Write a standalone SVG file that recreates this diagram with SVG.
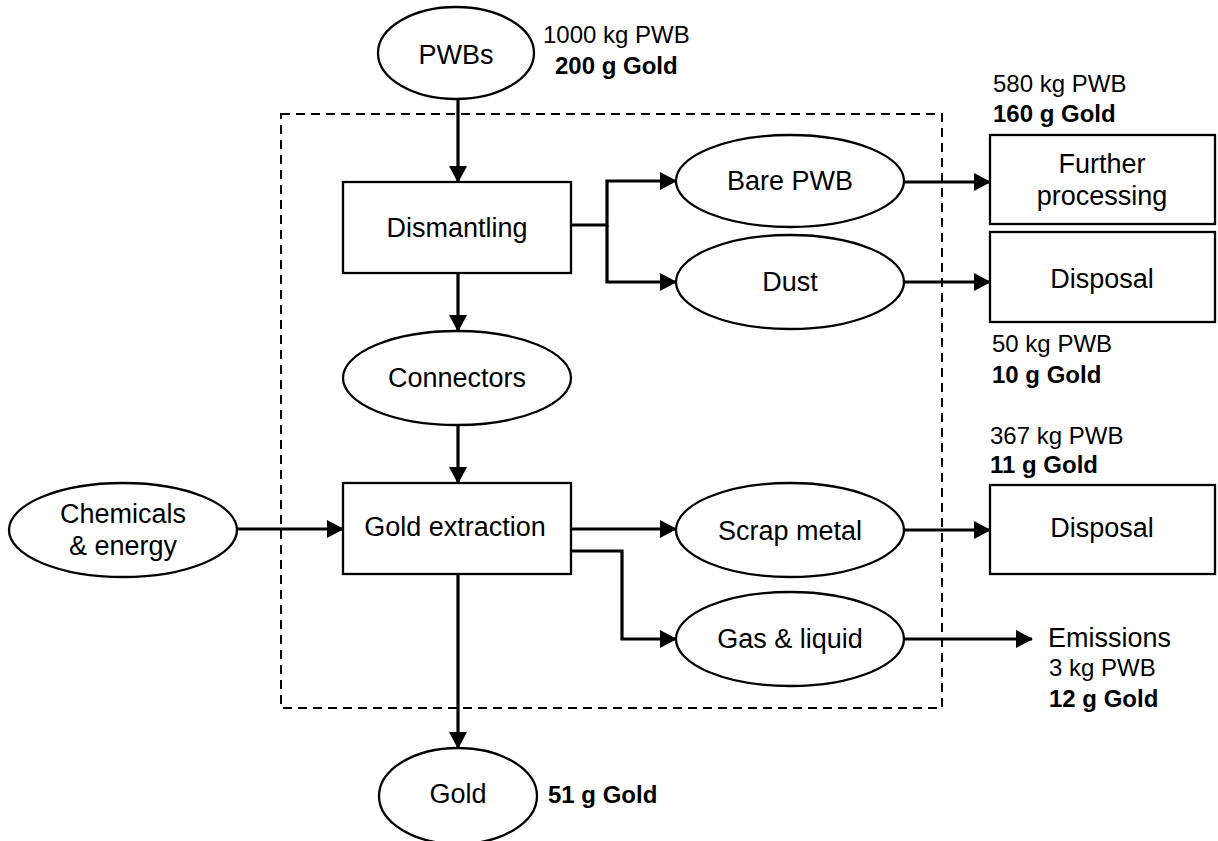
<svg xmlns="http://www.w3.org/2000/svg" width="1218" height="841" viewBox="0 0 1218 841">
<style>
.n{fill:#fff;stroke:#000;stroke-width:2.3}
.t{font-family:"Liberation Sans",Arial,sans-serif;font-size:27px;fill:#000;text-anchor:middle}
.a{font-family:"Liberation Sans",Arial,sans-serif;font-size:24px;fill:#000}
.b{font-weight:bold}
.c{fill:none;stroke:#000;stroke-width:3.2}
</style>
<defs>
<marker id="ah" markerUnits="userSpaceOnUse" markerWidth="17" markerHeight="18" refX="16" refY="9" orient="auto">
<path d="M0,0 L17,9 L0,18 z" fill="#000"/>
</marker>
</defs>
<rect width="1218" height="841" fill="#fff"/>
<rect id="boundary" x="281" y="114" width="661" height="594" fill="none" stroke="#000" stroke-width="2" stroke-dasharray="9,6"/>
<g id="connectors">
<path class="c" d="M458,99 V182" marker-end="url(#ah)"/>
<path class="c" d="M458,273 V331" marker-end="url(#ah)"/>
<path class="c" d="M458,425 V483" marker-end="url(#ah)"/>
<path class="c" d="M571,225 H607 V181 H676" marker-end="url(#ah)"/>
<path class="c" d="M607,225 V282 H676" marker-end="url(#ah)"/>
<path class="c" d="M904,182 H990" marker-end="url(#ah)"/>
<path class="c" d="M904,282 H990" marker-end="url(#ah)"/>
<path class="c" d="M237,529 H343" marker-end="url(#ah)"/>
<path class="c" d="M571,529 H676" marker-end="url(#ah)"/>
<path class="c" d="M571,551 H622 V639 H676" marker-end="url(#ah)"/>
<path class="c" d="M904,530 H990" marker-end="url(#ah)"/>
<path class="c" d="M904,639 H1032" marker-end="url(#ah)"/>
<path class="c" d="M458,574 V748" marker-end="url(#ah)"/>
</g>
<g id="pwbs">
<ellipse class="n" cx="456" cy="53" rx="78" ry="46"/>
<text class="t" x="456" y="64">PWBs</text>
<text class="a" x="543" y="43">1000 kg PWB</text>
<text class="a b" x="555" y="74">200 g Gold</text>
</g>
<g id="dismantling">
<rect class="n" x="343" y="182" width="228" height="91"/>
<text class="t" x="457" y="237">Dismantling</text>
</g>
<g id="connectors-node">
<ellipse class="n" cx="457" cy="378" rx="114" ry="47"/>
<text class="t" x="457" y="387">Connectors</text>
</g>
<g id="gold-extraction">
<rect class="n" x="343" y="483" width="228" height="91"/>
<text class="t" x="455" y="536">Gold extraction</text>
</g>
<g id="chemicals">
<ellipse class="n" cx="123" cy="530" rx="114" ry="47"/>
<text class="t" x="123" y="523">Chemicals</text>
<text class="t" x="123" y="555">&amp; energy</text>
</g>
<g id="bare-pwb">
<ellipse class="n" cx="790" cy="181" rx="114" ry="46"/>
<text class="t" x="790" y="190">Bare PWB</text>
</g>
<g id="dust">
<ellipse class="n" cx="790" cy="282" rx="114" ry="47"/>
<text class="t" x="790" y="291">Dust</text>
</g>
<g id="further-processing">
<rect class="n" x="990" y="135" width="225" height="89"/>
<text class="t" x="1102" y="173">Further</text>
<text class="t" x="1102" y="205">processing</text>
<text class="a" x="993" y="92">580 kg PWB</text>
<text class="a b" x="993" y="122">160 g Gold</text>
</g>
<g id="disposal-1">
<rect class="n" x="990" y="232" width="225" height="90"/>
<text class="t" x="1102" y="288">Disposal</text>
<text class="a" x="992" y="352">50 kg PWB</text>
<text class="a b" x="992" y="383">10 g Gold</text>
</g>
<g id="scrap-metal">
<ellipse class="n" cx="790" cy="530" rx="114" ry="47"/>
<text class="t" x="790" y="540">Scrap metal</text>
</g>
<g id="gas-liquid">
<ellipse class="n" cx="790" cy="639" rx="114" ry="47"/>
<text class="t" x="790" y="648">Gas &amp; liquid</text>
</g>
<g id="disposal-2">
<rect class="n" x="990" y="485" width="225" height="89"/>
<text class="t" x="1102" y="537">Disposal</text>
<text class="a" x="990" y="444">367 kg PWB</text>
<text class="a b" x="990" y="473">11 g Gold</text>
</g>
<g id="emissions">
<text class="t" x="1048" y="647" style="text-anchor:start">Emissions</text>
<text class="a" x="1049" y="676">3 kg PWB</text>
<text class="a b" x="1049" y="707">12 g Gold</text>
</g>
<g id="gold">
<ellipse class="n" cx="458" cy="796" rx="79" ry="48"/>
<text class="t" x="458" y="803">Gold</text>
<text class="a b" x="548" y="803">51 g Gold</text>
</g>
</svg>
